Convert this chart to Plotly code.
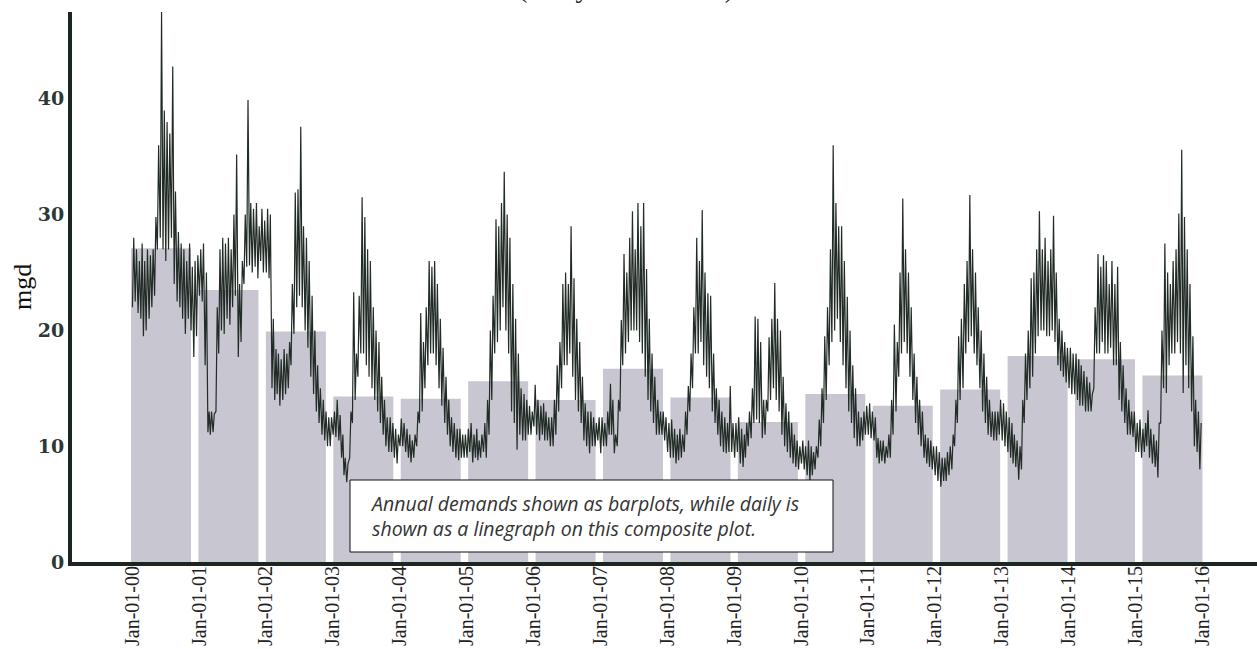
import plotly.graph_objects as go
import pandas as pd

# ---------------- data ----------------
years = list(range(2000, 2016))
annual_mgd = [27.1, 23.5, 19.9, 14.3, 14.1, 15.6, 14.0, 16.7, 14.2, 12.1, 14.5, 13.5, 14.9, 17.8, 17.5, 16.1]

tick_years = list(range(2000, 2017))
tick_labels = [f"Jan-01-{y % 100:02d}" for y in tick_years]

# daily demand envelope read per half-month (upper and lower edge of the daily trace)
daily_high = [
    [28, 27, 26, 27.5, 26, 27, 26.5, 27, 29.8, 36, 47.5, 39, 38, 37, 42.8, 32, 28.5, 27.5, 27, 26, 27.5, 25.5, 26, 26.5],
    [27, 27.5, 25, 13, 13, 12.8, 22, 27, 28, 27.5, 28, 27, 30, 35.2, 24, 26, 30, 39.9, 31, 30.5, 31, 29, 30.5, 29.5],
    [30.5, 30, 21, 18.4, 18, 17.5, 18.4, 18, 19, 24, 31.9, 32.2, 37.6, 29, 28, 26, 23, 20, 17, 15, 14, 13, 12.5, 12.5],
    [13, 14, 12.7, 11, 9, 8.5, 13, 23.3, 18, 23, 31.5, 29.8, 27, 26, 22, 20, 19, 16, 14, 12.5, 12.5, 12, 11.5, 11],
    [12.4, 12, 11.5, 11, 10.5, 11, 13, 21.5, 19, 22, 26, 25.5, 26, 24, 21, 18.5, 16, 14, 12.5, 12, 11.5, 11.5, 11, 11],
    [11.5, 12, 11, 11.5, 10.5, 11, 12, 14, 20, 23, 29.6, 29, 31, 33.7, 30, 28, 24, 21, 18, 15, 14.5, 14, 13.5, 13],
    [15.3, 14, 13.5, 13.7, 13, 12.5, 12.5, 14, 17, 19, 24, 25, 24, 29, 24.5, 21, 19, 16, 13.7, 13, 13, 12.5, 12, 12.5],
    [12.5, 12, 13, 15.4, 14, 11, 14, 20.9, 26.6, 25, 28, 30.3, 27, 31, 29, 31, 25.3, 21, 18, 16, 14, 13, 13, 12.5],
    [12, 12.3, 11.5, 11, 11.5, 11, 13, 15.2, 18, 22, 28, 26, 30.4, 25, 23.2, 23, 18, 15, 14, 13, 12.5, 12, 15.2, 12],
    [12, 12.5, 11.5, 11, 12, 13, 15, 21.2, 21, 19, 14, 14, 19.4, 21, 24.1, 21, 20, 16, 13.7, 13, 12, 11, 10.5, 10],
    [10.5, 10, 10.5, 10, 9.5, 10, 12.3, 15, 19.5, 22, 27, 36, 31, 29, 29, 26, 22.9, 20, 17, 15, 13, 12.5, 13, 13.5],
    [13.7, 13, 12.5, 10.7, 10.5, 10.5, 10, 11, 14, 20.5, 19, 25, 31.4, 27, 25, 22, 18, 16, 14, 13, 11, 10.7, 10.5, 10],
    [10, 9.5, 9, 9, 9.5, 10, 11, 14, 19.5, 21, 24, 26, 31.7, 27, 25, 22, 20, 18, 16, 14, 13, 13, 13, 14],
    [13.7, 13, 12.5, 12, 11, 10.5, 10, 14, 18, 20, 24.5, 25, 27, 30.3, 27, 28, 26, 27, 29.9, 25, 21, 20, 19, 18.5],
    [18.5, 18, 18, 17.5, 17, 16.5, 16, 15.5, 14.5, 22, 26.6, 25.5, 26.5, 26, 24, 26, 24, 25.5, 19, 17, 15, 14, 13, 13],
    [12, 12.3, 11.5, 12, 13.1, 11.5, 11, 10.5, 12, 20, 27.5, 25, 24, 26, 27, 30.1, 35.6, 29.8, 27, 24, 19.5, 14, 13, 12],
]
daily_low = [
    [22, 22.5, 21.5, 21, 19.5, 20, 21, 22, 23, 27, 28, 27, 26, 27, 28, 24, 22.5, 22, 21, 19.7, 21, 20, 17.7, 19.5],
    [23, 22.5, 17, 11.2, 11, 11.2, 13, 18, 20, 19.7, 21, 20.5, 22, 23, 17.7, 19, 24, 25.5, 25.6, 25, 25.5, 24.5, 26, 25],
    [25, 24.5, 15, 14, 14.5, 13.5, 14, 14.5, 15, 17, 19.7, 22, 23, 22, 20, 18.5, 16, 14.5, 13, 12, 11, 10.5, 10, 10],
    [11, 10.8, 10.5, 9, 7.5, 6.9, 9, 12, 14, 16, 18, 18, 17, 16, 15, 14, 13, 12, 11, 10, 9.5, 9.5, 9, 8.5],
    [10, 10, 9.5, 9, 8.6, 9, 10, 12, 13, 15, 17, 18, 18, 17, 15, 13.5, 12, 11, 10, 9.5, 9, 8.8, 9, 9],
    [9, 9.5, 8.6, 9, 8.8, 9, 9.5, 9, 11, 14, 18, 19, 20, 22, 20, 18, 13, 12, 9.7, 11, 10.5, 10.5, 11, 11],
    [11.7, 11, 10.5, 11, 10.5, 10.5, 10, 10, 11, 13, 15, 17, 17, 18, 16, 14, 13, 12, 10.5, 10, 9.4, 10, 10, 10.5],
    [9.4, 10, 10, 11, 11, 9.4, 10, 13, 17, 18, 19, 20, 20, 20, 19, 18, 16, 14, 13, 12, 11, 11, 11, 10.5],
    [9.5, 9, 9, 8.5, 8.8, 9, 9.5, 11, 13, 15, 18, 18, 19, 17, 16, 15, 13, 12, 11, 10, 9.5, 9.4, 9.5, 9.5],
    [9, 9.5, 8.5, 8.2, 9, 10, 10.7, 12, 12.3, 12, 10.7, 11, 13, 14, 15, 14, 13, 11, 10, 9.5, 9, 8.5, 8.2, 8],
    [8.5, 8, 7.5, 7, 7.5, 8, 9, 10, 12, 14, 17, 19, 20, 21, 19, 17, 15, 13, 12, 10.7, 10, 10, 10.5, 11],
    [11, 10.7, 10.5, 9, 8.5, 8.7, 8.5, 9, 9, 11, 13, 16, 18, 19, 18, 16, 14, 12, 11, 10, 9, 8.5, 8.2, 8],
    [7.5, 7, 6.5, 7, 7, 7.5, 8, 10, 12, 14, 15, 18, 19, 19.5, 18, 17, 15, 13, 12, 11, 10.8, 10.5, 10.5, 11],
    [10.5, 10, 9.5, 9, 8.5, 8.2, 7.1, 8, 12, 14, 15, 16, 18, 19.5, 20, 20, 19.5, 19.5, 20, 19, 17, 16.5, 16, 15.5],
    [15, 14.5, 14.5, 14, 13.5, 13.5, 13, 13, 13, 15, 18, 18, 19, 18, 18, 18.5, 17, 17, 14, 13, 12, 11, 11, 10.8],
    [9.5, 9.5, 9, 9.5, 10, 9, 8.5, 8.2, 7.3, 12, 15, 14.6, 17, 18, 18, 19, 18, 14.6, 17, 15, 13, 10, 9.5, 8],
]

title_text = "(Daily and Annual)"
note_text = ("Annual demands shown as barplots, while daily is<br>"
             "shown as a linegraph on this composite plot.")

# ---------------- build daily trace ----------------
dx, dy = [], []
for yi, yr in enumerate(years):
    for k in range(24):
        m = k // 2 + 1
        d0 = 1 if k % 2 == 0 else 16
        dx.append(pd.Timestamp(yr, m, d0 + 2)); dy.append(daily_low[yi][k])
        dx.append(pd.Timestamp(yr, m, d0 + 9)); dy.append(daily_high[yi][k])

fig = go.Figure()

# annual bars on a hidden numeric axis (base), daily line on the date axis (overlay)
fig.add_trace(go.Bar(
    x=years, y=annual_mgd, width=0.89,
    marker=dict(color="#c8c6d1", line=dict(width=0)),
    xaxis="x", yaxis="y", showlegend=False,
))
fig.add_trace(go.Scatter(
    x=dx, y=dy, mode="lines",
    line=dict(color="#222c26", width=1.2),
    xaxis="x2", yaxis="y", showlegend=False,
))

fig.update_layout(
    width=1257, height=649,
    margin=dict(l=72, r=0, t=12, b=87, autoexpand=False),
    paper_bgcolor="white", plot_bgcolor="white",
    showlegend=False,
    xaxis=dict(
        range=[1998.68, 2016.254], visible=False, showgrid=False, zeroline=False,
    ),
    xaxis2=dict(
        type="date", overlaying="x", anchor="y", side="bottom",
        range=["1999-02-07", "2016-10-25"],
        tickmode="array",
        tickvals=[f"{y}-01-01" for y in tick_years],
        ticktext=tick_labels,
        tickangle=-90,
        tickfont=dict(family="Liberation Serif", size=20, color="#222222"),
        ticklabelstandoff=-8,
        showline=True, linewidth=4, linecolor="#1c2621",
        ticks="", showgrid=False, zeroline=False, automargin=False,
    ),
    yaxis=dict(
        range=[0, 47.5],
        tickmode="array", tickvals=[0, 10, 20, 30, 40],
        tickfont=dict(family="DejaVu Serif", size=19, color="#2c3838", weight="bold"),
        showline=True, linewidth=4, linecolor="#1c2621",
        ticks="", showgrid=False, zeroline=False, automargin=False,
    ),
)

# y-axis title
fig.add_annotation(
    text="mgd", xref="paper", yref="paper", x=-0.0422, y=0.5,
    xanchor="center", yanchor="middle", textangle=-90, showarrow=False,
    font=dict(family="Liberation Serif", size=26, color="#111111"),
)

# top title (mostly cut off above the image)
fig.add_annotation(
    text=title_text, xref="paper", yref="paper", x=0.4675, y=1.0125,
    xanchor="center", yanchor="bottom", showarrow=False,
    font=dict(family="Liberation Serif", size=28, color="#222222"),
)

# note box
x0 = (350 - 72) / 1185
x1 = (833 - 72) / 1185
y0 = (562 - 552) / 550
y1 = (562 - 480) / 550
fig.add_shape(
    type="rect", xref="paper", yref="paper", x0=x0, x1=x1, y0=y0, y1=y1,
    fillcolor="white", line=dict(color="#111111", width=1), layer="above",
)
fig.add_annotation(
    text=note_text, xref="paper", yref="paper",
    x=(368 - 72) / 1185, y=(562 - 516) / 550,
    xanchor="left", yanchor="middle", align="left", showarrow=False,
    font=dict(family="Open Sans", size=19.5, color="#333333", style="italic"),
)

fig.write_html(
    "out.html",
    config={"displayModeBar": False},
    post_script="document.body.style.margin='0';document.body.style.padding='0';",
)
